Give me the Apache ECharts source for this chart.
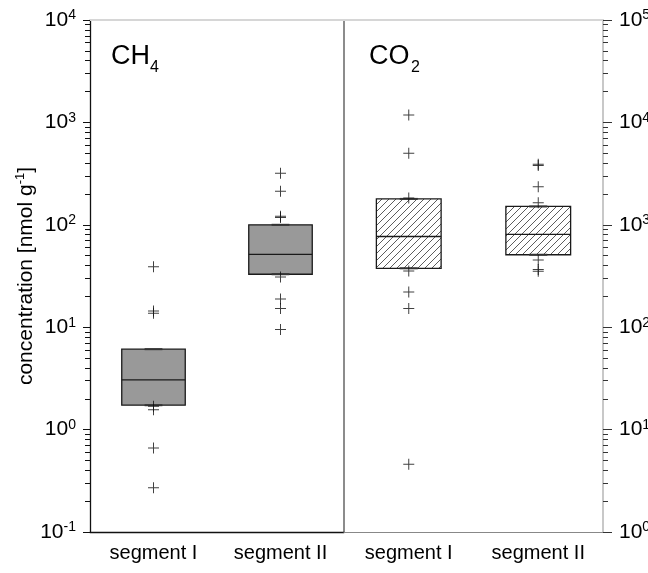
<!DOCTYPE html>
<html>
<head>
<meta charset="utf-8">
<script src="https://cdn.jsdelivr.net/npm/echarts@6/dist/echarts.min.js"></script>
<style>
  html, body { margin: 0; padding: 0; background: #fff; }
  #chart { width: 648px; height: 573px; }
</style>
</head>
<body>
<div id="chart"></div>
<script>
const categories = ['segment I', 'segment II'];

// box stats per category: [index, lowWhisker, q1, median, q3, highWhisker]
const ch4Boxes = [
  [0, 1.73, 1.73, 3.06, 6.1, 6.1],
  [1, 32.9, 32.9, 51.4, 100, 100]
];
const co2Boxes = [
  [0, 376, 376, 769, 1790, 1790],
  [1, 510, 510, 805, 1510, 1510]
];

// outliers: [index, value]
const ch4Outliers = [
  [0, 39], [0, 14.4], [0, 13.7], [0, 1.69], [0, 1.56], [0, 0.66], [0, 0.27],
  [1, 318], [1, 213], [1, 121], [1, 118], [1, 31], [1, 18.9], [1, 15.2], [1, 9.5]
];
const co2Outliers = [
  [0, 11800], [0, 5000], [0, 1830], [0, 354], [0, 221], [0, 152], [0, 4.6],
  [1, 3900], [1, 3800], [1, 2350], [1, 1640], [1, 453], [1, 367], [1, 351]
];

// axis ticks
const ch4Decades = [0.1, 1, 10, 100, 1000, 10000];
const co2Decades = [1, 10, 100, 1000, 10000, 100000];
const minorSteps = [2, 3, 4, 5, 6, 7, 8, 9];

const minorOf = (decades) =>
  decades.slice(0, -1).flatMap(d => minorSteps.map(m => +(d * m).toPrecision(3)));

const FONT = '"Liberation Sans", Arial, sans-serif';
const plusSymbol = 'path://M0,5H11V6H0Z M5,0H6V11H5Z';

// hatch tile for CO2 boxes
const tile = document.createElement('canvas');
tile.width = 7;
tile.height = 7;
const tc = tile.getContext('2d');
tc.strokeStyle = '#333';
tc.lineWidth = 0.8;
tc.beginPath();
tc.moveTo(0, 7); tc.lineTo(7, 0);
tc.moveTo(-1, 1); tc.lineTo(1, -1);
tc.moveTo(6, 8); tc.lineTo(8, 6);
tc.stroke();

function supLabel(v) {
  const e = Math.round(Math.log10(v));
  return '{b|10}{s|' + e + '}';
}
const supRich = {
  b: { fontSize: 21, lineHeight: 23, color: '#000', fontFamily: FONT },
  s: { fontSize: 14, lineHeight: 14, color: '#000', fontFamily: FONT, verticalAlign: 'top' }
};

function boxRender(fill) {
  return function (params, api) {
    const i = api.value(0);
    const lo = api.coord([i, api.value(1)]);
    const q1 = api.coord([i, api.value(2)]);
    const med = api.coord([i, api.value(3)]);
    const q3 = api.coord([i, api.value(4)]);
    const hi = api.coord([i, api.value(5)]);
    const band = api.size([1, 0])[0];
    const half = band * 0.25;
    const cap = band * 0.07;
    const x = q1[0];
    const stroke = { stroke: '#1a1a1a', lineWidth: 1.3 };
    return {
      type: 'group',
      children: [
        { type: 'rect', shape: { x: x - half, y: q3[1], width: half * 2, height: q1[1] - q3[1] },
          style: { fill: fill, stroke: '#1a1a1a', lineWidth: 1.3 } },
        { type: 'line', shape: { x1: x - half, y1: med[1], x2: x + half, y2: med[1] }, style: stroke },
        { type: 'line', shape: { x1: x, y1: q3[1], x2: x, y2: hi[1] }, style: stroke },
        { type: 'line', shape: { x1: x, y1: q1[1], x2: x, y2: lo[1] }, style: stroke },
        { type: 'line', shape: { x1: x - cap, y1: hi[1], x2: x + cap, y2: hi[1] }, style: { stroke: '#333', lineWidth: 2 } },
        { type: 'line', shape: { x1: x - cap, y1: lo[1], x2: x + cap, y2: lo[1] }, style: { stroke: '#333', lineWidth: 2 } }
      ]
    };
  };
}

const chart = echarts.init(document.getElementById('chart'));

const option = {
  animation: false,
  backgroundColor: '#fff',
  textStyle: { fontFamily: FONT },
  grid: [
    { left: 90, right: 304, top: 20, bottom: 41, outerBoundsMode: 'none' },
    { left: 344, right: 45, top: 20, bottom: 41, outerBoundsMode: 'none' }
  ],
  xAxis: [
    {
      type: 'category', gridIndex: 0, data: categories, position: 'bottom',
      axisLine: { lineStyle: { color: '#111', width: 1.3 } },
      axisTick: { alignWithLabel: true, length: 8, lineStyle: { color: '#333' } },
      axisLabel: { fontSize: 20, color: '#000', margin: 11, fontFamily: FONT },
      splitLine: { show: false }
    },
    {
      type: 'category', gridIndex: 0, data: categories, position: 'top',
      axisLine: { lineStyle: { color: '#d6d6d6', width: 2 } },
      axisTick: { show: false }, axisLabel: { show: false }
    },
    {
      type: 'category', gridIndex: 1, data: categories, position: 'bottom',
      axisLine: { lineStyle: { color: '#888', width: 1 } },
      axisTick: { alignWithLabel: true, length: 8, lineStyle: { color: '#777' } },
      axisLabel: { fontSize: 20, color: '#000', margin: 11, fontFamily: FONT },
      splitLine: { show: false }
    },
    {
      type: 'category', gridIndex: 1, data: categories, position: 'top',
      axisLine: { lineStyle: { color: '#d6d6d6', width: 2 } },
      axisTick: { show: false }, axisLabel: { show: false }
    }
  ],
  yAxis: [
    {
      type: 'log', logBase: 10, gridIndex: 0, position: 'left',
      min: 0.1, max: 10000,
      name: '{a|concentration [nmol g}{s|-1}{a|]}',
      nameLocation: 'middle', nameGap: 52,
      nameTextStyle: {
        rich: {
          a: { fontSize: 21, lineHeight: 23, color: '#000', fontFamily: FONT },
          s: { fontSize: 13, lineHeight: 13, color: '#000', fontFamily: FONT, verticalAlign: 'top' }
        }
      },
      axisLine: { show: true, lineStyle: { color: '#111', width: 1.3 } },
      axisTick: { show: true, length: 7, customValues: ch4Decades, lineStyle: { color: '#111' } },
      axisLabel: { customValues: ch4Decades, formatter: supLabel, rich: supRich, margin: 14 },
      splitLine: { show: false }
    },
    {
      type: 'log', logBase: 10, gridIndex: 0, position: 'left',
      min: 0.1, max: 10000,
      axisLine: { show: false },
      axisTick: { show: true, length: 5, customValues: minorOf(ch4Decades), lineStyle: { color: '#111' } },
      axisLabel: { show: false },
      splitLine: { show: false }
    },
    {
      type: 'log', logBase: 10, gridIndex: 1, position: 'right',
      min: 1, max: 100000,
      axisLine: { show: true, lineStyle: { color: '#c8c8c8', width: 2 } },
      axisTick: { show: true, length: 9, customValues: co2Decades, lineStyle: { color: '#333' } },
      axisLabel: { customValues: co2Decades, formatter: supLabel, rich: supRich, margin: 16 },
      splitLine: { show: false }
    },
    {
      type: 'log', logBase: 10, gridIndex: 1, position: 'right',
      min: 1, max: 100000,
      axisLine: { show: false },
      axisTick: { show: true, length: 5, customValues: minorOf(co2Decades), lineStyle: { color: '#333' } },
      axisLabel: { show: false },
      splitLine: { show: false }
    },
    {
      type: 'value', gridIndex: 1, position: 'left', min: 0, max: 1,
      axisLine: { show: true, lineStyle: { color: '#666', width: 1.5 } },
      axisTick: { show: false }, axisLabel: { show: false }, splitLine: { show: false }
    }
  ],
  graphic: [
    { type: 'text', left: 111, top: 43, style: { text: 'CH', fontSize: 27, fill: '#000', fontFamily: FONT } },
    { type: 'text', left: 150, top: 60, style: { text: '4', fontSize: 16, fill: '#000', fontFamily: FONT } },
    { type: 'text', left: 369, top: 43, style: { text: 'CO', fontSize: 27, fill: '#000', fontFamily: FONT } },
    { type: 'text', left: 411, top: 60, style: { text: '2', fontSize: 16, fill: '#000', fontFamily: FONT } }
  ],
  series: [
    {
      type: 'custom', name: 'CH4', xAxisIndex: 0, yAxisIndex: 0,
      renderItem: boxRender('#999999'), data: ch4Boxes,
      encode: { x: 0, y: [1, 2, 3, 4, 5] }
    },
    {
      type: 'custom', name: 'CO2', xAxisIndex: 2, yAxisIndex: 2,
      renderItem: boxRender({ image: tile, repeat: 'repeat' }), data: co2Boxes,
      encode: { x: 0, y: [1, 2, 3, 4, 5] }
    },
    {
      type: 'scatter', xAxisIndex: 0, yAxisIndex: 0, data: ch4Outliers,
      symbol: plusSymbol, symbolSize: 11, itemStyle: { color: '#111' }
    },
    {
      type: 'scatter', xAxisIndex: 2, yAxisIndex: 2, data: co2Outliers,
      symbol: plusSymbol, symbolSize: 11, itemStyle: { color: '#111' }
    }
  ]
};

chart.setOption(option);
</script>
</body>
</html>
